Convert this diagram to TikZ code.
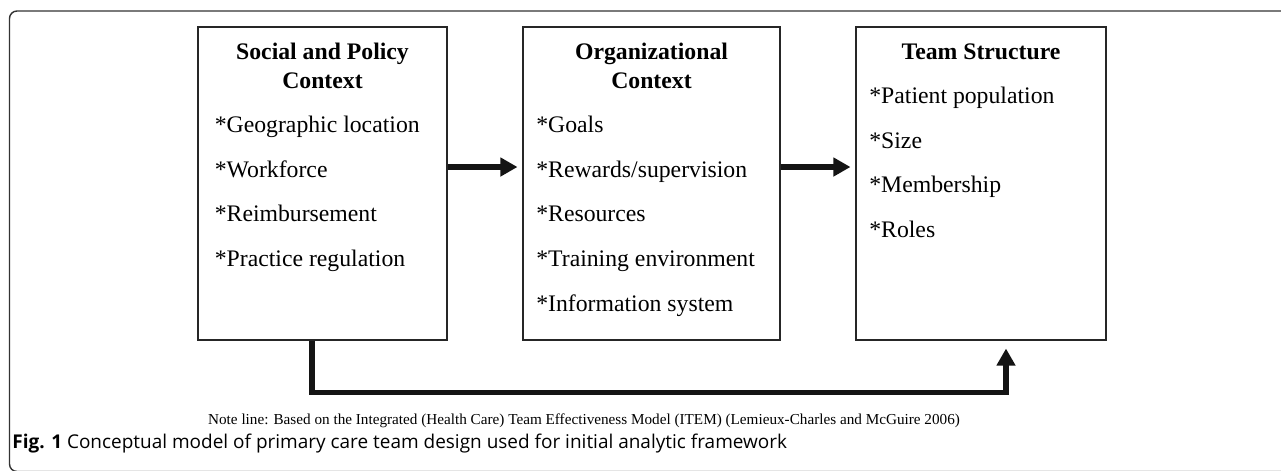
\documentclass[tikz,border=0pt]{standalone}
\usepackage{fontspec}
\setmainfont{Liberation Serif}
\newfontfamily\capfont{Open Sans}
\usetikzlibrary{arrows.meta}
\begin{document}
\begin{tikzpicture}[auto, font=\fontsize{13.5}{16.4}\selectfont]
\tikzset{%
	frame/.style = {draw=black!80, line width=0.8pt, rounded corners=0.15cm},
	ctx/.style = {draw=black!85, line width=0.6pt, rectangle, minimum height=6.26cm, inner sep=0pt},
	head/.style = {anchor=north, inner sep=0pt, align=center, font=\fontsize{13.5}{16.4}\selectfont\bfseries},
	list/.style = {anchor=north west, inner sep=0pt, align=left, font=\fontsize{13.5}{25.5}\selectfont},
	con/.style = {-{Triangle[length=0.34cm,width=0.36cm]}, line width=3.2pt, black!92}
}
\useasboundingbox (0,0) rectangle (25.62,-9.4);

% Outer frame
\begin{scope}
\clip (0,0) rectangle (25.62,-9.4);
\draw[frame] (0.19,-0.22) rectangle (27,-9.43);
\end{scope}

% Boxes
\draw node at (6.45,-3.67) [ctx, minimum width=4.98cm] (soc) {};
\draw node at (13.03,-3.67) [ctx, minimum width=5.14cm] (org) {};
\draw node at (19.62,-3.67) [ctx, minimum width=5.0cm] (team) {};

\draw node at ([yshift=-0.33cm]soc.north) [head] (socHead) {Social and Policy\\Context};
\draw node at ([yshift=-0.33cm]org.north) [head] (orgHead) {Organizational\\Context};
\draw node at ([yshift=-0.33cm]team.north) [head] (teamHead) {Team Structure};

\draw node at ([xshift=0.34cm,yshift=-1.78cm]soc.north west) [list] (socList)
{*Geographic location\\*Workforce\\*Reimbursement\\*Practice regulation};
\draw node at ([xshift=0.27cm,yshift=-1.78cm]org.north west) [list] (orgList)
{*Goals\\*Rewards/supervision\\*Resources\\*Training environment\\*Information system};
\draw node at ([xshift=0.27cm,yshift=-1.2cm]team.north west) [list] (teamList)
{*Patient population\\*Size\\*Membership\\*Roles};

% Arrows
\draw[con, shorten >=0.1cm] ([yshift=0.33cm]soc.east) -- ([yshift=0.33cm]org.west);
\draw[con, shorten >=0.1cm] ([yshift=0.33cm]org.east) -- ([yshift=0.33cm]team.west);
\draw[con, shorten >=0.16cm] ([xshift=-0.21cm]soc.south) -- ++(0,-1.04) -| ([xshift=0.5cm]team.south);

% Notes
\draw node at (11.68,-8.42) (note) {\fontsize{8.65}{10}\selectfont Note line: Based on the Integrated (Health Care) Team Effectiveness Model (ITEM) (Lemieux-Charles and McGuire 2006)};
\draw node at (0.24,-8.87) [anchor=west, inner sep=0pt] (cap) {\capfont\fontsize{10.8}{12}\selectfont\textbf{Fig. 1} Conceptual model of primary care team design used for initial analytic framework};

\end{tikzpicture}
\end{document}
